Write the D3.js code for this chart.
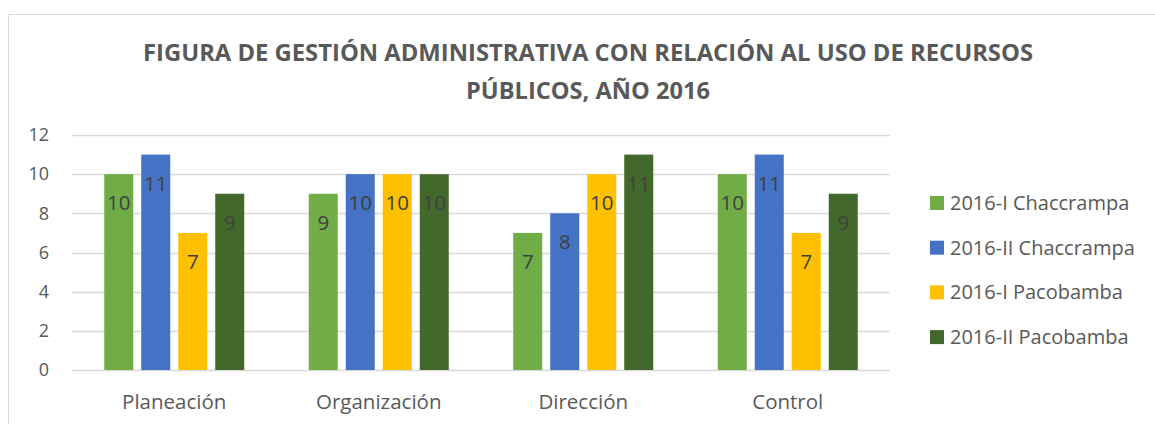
<!DOCTYPE html>
<html>
<head>
<meta charset="utf-8">
<script src="https://cdn.jsdelivr.net/npm/d3@7"></script>
<style>
  body { margin: 0; background: #fff; }
  text { font-family: "Open Sans", "Noto Sans", sans-serif; }
</style>
</head>
<body>
<div id="chart"></div>
<script>
// data
var categories = ["Planeación", "Organización", "Dirección", "Control"];
var seriesNames = ["2016-I Chaccrampa", "2016-II Chaccrampa", "2016-I Pacobamba", "2016-II Pacobamba"];
var seriesColors = ["#70AD47", "#4472C4", "#FFC000", "#43682B"];
var chaccrampa1 = [10, 9, 7, 10];
var chaccrampa2 = [11, 10, 8, 11];
var pacobamba1 = [7, 10, 10, 7];
var pacobamba2 = [9, 10, 11, 9];
var yTicks = [0, 2, 4, 6, 8, 10, 12];
var titleLines = ["FIGURA DE GESTIÓN ADMINISTRATIVA CON RELACIÓN AL USO DE RECURSOS", "PÚBLICOS, AÑO 2016"];

var seriesValues = [chaccrampa1, chaccrampa2, pacobamba1, pacobamba2];

var W = 1155, H = 424;
var plot = { left: 72, right: 890, top: 135, bottom: 370 };

var svg = d3.select("#chart")
  .append("svg")
  .attr("width", W)
  .attr("height", H);

// chart area border
svg.append("rect")
  .attr("x", 8.5)
  .attr("y", 14.5)
  .attr("width", W + 20)
  .attr("height", H + 20)
  .attr("fill", "#fff")
  .attr("stroke", "#d9d9d9")
  .attr("stroke-width", 1);

// title
svg.append("g").selectAll("text")
  .data(titleLines)
  .enter().append("text")
  .attr("x", 588)
  .attr("y", function (d, i) { return 61 + i * 38; })
  .attr("text-anchor", "middle")
  .attr("font-size", 23)
  .attr("font-weight", "bold")
  .attr("fill", "#595959")
  .attr("textLength", function (d, i) { return i === 0 ? 890 : 244; })
  .attr("lengthAdjust", "spacingAndGlyphs")
  .text(function (d) { return d; });

var y = d3.scaleLinear()
  .domain([0, 12])
  .range([plot.bottom, plot.top]);

var x0 = d3.scaleBand()
  .domain(categories)
  .range([plot.left, plot.right]);

var groupW = 140;
var x1 = d3.scaleBand()
  .domain(d3.range(seriesNames.length))
  .range([0, groupW])
  .paddingInner(0.216);

// gridlines
svg.append("g").selectAll("line")
  .data(yTicks)
  .enter().append("line")
  .attr("x1", plot.left)
  .attr("x2", plot.right)
  .attr("y1", function (d) { return Math.round(y(d)) + 0.5; })
  .attr("y2", function (d) { return Math.round(y(d)) + 0.5; })
  .attr("stroke", "#d9d9d9")
  .attr("stroke-width", 1.5);

// y axis labels
var yAxis = svg.append("g")
  .attr("transform", "translate(" + (plot.left - 23) + ",0)")
  .call(d3.axisLeft(y).tickValues(yTicks).tickSize(0).tickPadding(0));
yAxis.select(".domain").remove();
yAxis.selectAll("text")
  .attr("font-size", 18)
  .attr("fill", "#595959")
  .style("font-family", "'Open Sans', 'Noto Sans', sans-serif");

// x axis labels
var xAxis = svg.append("g")
  .attr("transform", "translate(0," + plot.bottom + ")")
  .call(d3.axisBottom(x0).tickSize(0).tickPadding(0));
xAxis.select(".domain").remove();
xAxis.selectAll("text")
  .attr("dy", 0)
  .attr("y", 39)
  .attr("font-size", 20.5)
  .attr("fill", "#595959")
  .style("font-family", "'Open Sans', 'Noto Sans', sans-serif");

// bars
var groups = svg.append("g").selectAll("g")
  .data(categories)
  .enter().append("g")
  .attr("transform", function (d) {
    return "translate(" + (x0(d) + (x0.bandwidth() - groupW) / 2) + ",0)";
  });

groups.selectAll("rect")
  .data(function (d, ci) { return seriesValues.map(function (vals, si) { return { s: si, v: vals[ci] }; }); })
  .enter().append("rect")
  .attr("x", function (d) { return x1(d.s); })
  .attr("y", function (d) { return y(d.v); })
  .attr("width", x1.bandwidth())
  .attr("height", function (d) { return y(0) - y(d.v); })
  .attr("fill", function (d) { return seriesColors[d.s]; });

// data labels (inside end)
groups.selectAll("text.val")
  .data(function (d, ci) { return seriesValues.map(function (vals, si) { return { s: si, v: vals[ci] }; }); })
  .enter().append("text")
  .attr("class", "val")
  .attr("x", function (d) { return x1(d.s) + x1.bandwidth() / 2; })
  .attr("y", function (d) { return y(d.v) + 36; })
  .attr("text-anchor", "middle")
  .attr("font-size", 20.5)
  .attr("fill", "#404040")
  .text(function (d) { return d.v; });

// legend
var legend = svg.append("g").selectAll("g")
  .data(seriesNames)
  .enter().append("g")
  .attr("transform", function (d, i) { return "translate(930," + (203 + i * 44.7) + ")"; });

legend.append("rect")
  .attr("x", 0)
  .attr("y", -7)
  .attr("width", 14)
  .attr("height", 14)
  .attr("fill", function (d, i) { return seriesColors[i]; });

legend.append("text")
  .attr("x", 20)
  .attr("y", 7)
  .attr("font-size", 20)
  .attr("fill", "#595959")
  .text(function (d) { return d; });
</script>
</body>
</html>
